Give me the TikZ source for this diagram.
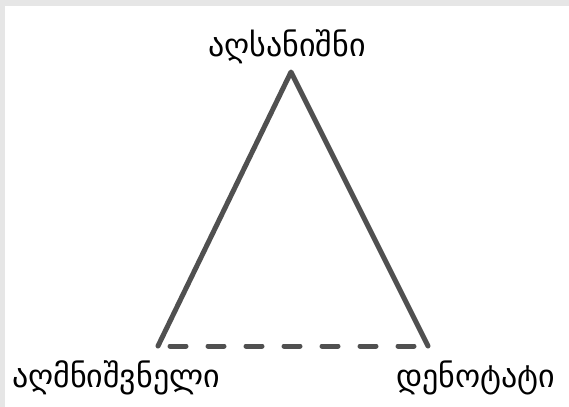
\documentclass[tikz,border=0pt]{standalone}
\usepackage{fontspec}
\setmainfont{DejaVu Sans}
\usetikzlibrary{positioning}
\definecolor{semiGray}{HTML}{505050}
\definecolor{semiFrame}{HTML}{E6E6E6}

\begin{document}
\begin{tikzpicture}[x=0.5pt,y=-0.5pt,
    side/.style={draw=semiGray,line width=2.5pt,line join=round,line cap=round},
    term/.style={font=\fontsize{16}{18}\selectfont,text=black,inner sep=0pt,anchor=base}]
  % frame
  \fill[semiFrame] (0,0) rectangle (569,407);
  \fill[white] (5,6) rectangle (569,407);
  \useasboundingbox (0,0) rectangle (569,407);
  \coordinate (top) at (291,72);
  \coordinate (left) at (158,346);
  \coordinate (right) at (428,346);
  \node[term] (signified) at (287,56) {აღსანიშნი};
  \node[term] (signifier) at (116,387) {აღმნიშვნელი};
  \node[term] (denotatum) at (476,387) {დენოტატი};
  \draw[side] (left) -- (top) -- (right);
  \draw[side,dash pattern=on 8pt off 11pt,dash phase=-6pt] (left) -- (right);
\end{tikzpicture}
\end{document}
